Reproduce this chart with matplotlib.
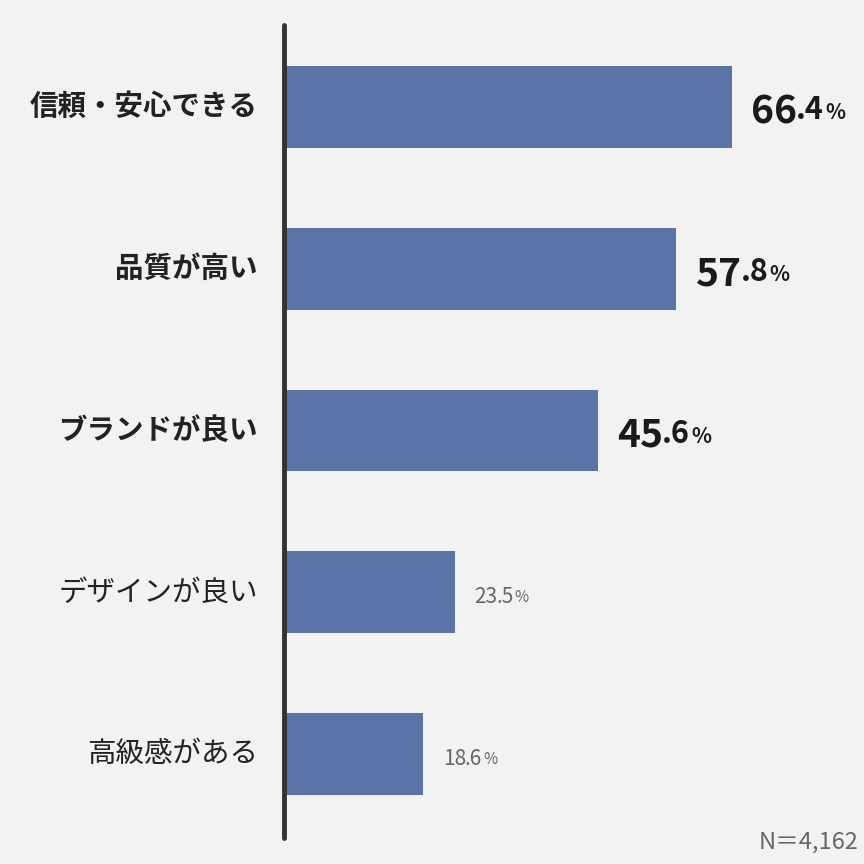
import matplotlib
matplotlib.use("Agg")
import matplotlib.pyplot as plt

plt.rcParams['font.family'] = ['Noto Sans CJK JP', 'DejaVu Sans']

categories = ['信頼・安心できる', '品質が高い', 'ブランドが良い', 'デザインが良い', '高級感がある']
values = [66.4, 57.8, 45.6, 23.5, 18.6]
highlight = [True, True, True, False, False]
n_label = 'N＝4,162'

base = -3.0
bg = '#f2f2f2'
fig = plt.figure(figsize=(8.64, 8.64), dpi=100, facecolor=bg)
ax = fig.add_axes([284 / 864, 1 - 838 / 864, 580 / 864, 813 / 864])
ax.set_facecolor(bg)

ypos = list(range(len(values)))
ax.barh(ypos, [v - base for v in values], left=base, height=0.506, color='#5a74a7')
ax.set_xlim(base, 86.85)
ax.set_ylim(4.518, -0.506)

for s in ['top', 'right', 'bottom']:
    ax.spines[s].set_visible(False)
ax.spines['left'].set_linewidth(3.5)
ax.spines['left'].set_color('#333333')
ax.spines['left'].set_capstyle('round')
ax.set_xticks([])
ax.set_yticks([])

for y, cat, v, hl in zip(ypos, categories, values, highlight):
    ax.text(-0.045, y, cat, transform=ax.get_yaxis_transform(), ha='right', va='center',
            fontsize=20.5, fontweight='bold' if hl else 'normal', color='#222222')
    whole, dec = f'{v:.1f}'.split('.')
    if hl:
        sizes, col, w = (28, 22, 15), '#1a1a1a', 'bold'
    else:
        sizes, col, w = (15, 15, 11), '#666666', 'normal'
    t = ax.text(v + 3.0, y + 0.03, whole, ha='left', va='center', fontsize=sizes[0],
                fontweight=w, color=col)
    t2 = ax.annotate('.' + dec, xy=(1, 0.13 if hl else 0), xycoords=t, xytext=(-1, 0),
                     textcoords='offset points', ha='left', va='bottom',
                     fontsize=sizes[1], fontweight=w, color=col)
    ax.annotate('%', xy=(1, 0.1), xycoords=t2, xytext=(1, 0), textcoords='offset points',
                ha='left', va='bottom', fontsize=sizes[2], fontweight=w, color=col)

fig.text(858 / 864, 1 - 842 / 864, n_label, ha='right', va='center', fontsize=17, color='#666666')

fig.savefig('out.png', dpi=100, facecolor=bg)
